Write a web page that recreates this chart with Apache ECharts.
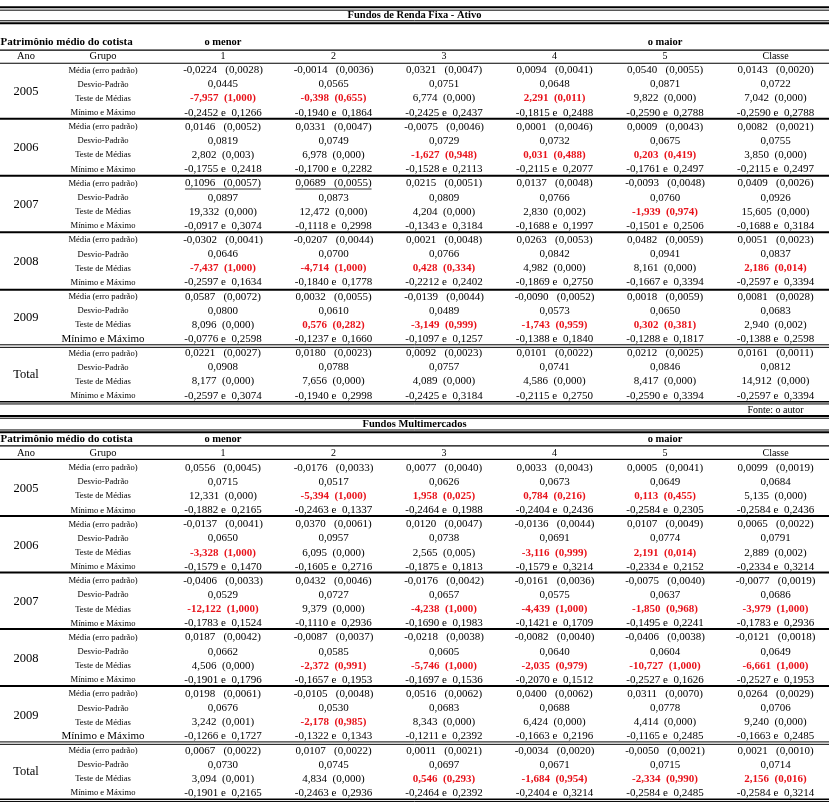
<!DOCTYPE html>
<html><head><meta charset="utf-8">
<script src="https://cdn.jsdelivr.net/npm/echarts@6/dist/echarts.min.js"></script>
<style>html,body{margin:0;padding:0;background:#fff}#c{width:829px;height:803px}</style>
</head><body><div id="c"></div>
<script>
// ---------- data ----------
const years = ['2005','2006','2007','2008','2009','Total'];
const groups = ['1','2','3','4','5','Classe'];
const statLabels = ['Média (erro padrão)','Desvio-Padrão','Teste de Médias','Mínimo e Máximo'];
const headerLabels = ['Ano','Grupo'];
const tableTitles = ['Fundos de Renda Fixa - Ativo','Fundos Multimercados'];
const sizeLabel = 'Patrimônio médio do cotista';
const sizeEnds = ['o menor','o maior'];
const sourceNote = 'Fonte: o autor';

const rfMean = [
 [-0.0224,-0.0014,0.0321,0.0094,0.0540,0.0143],
 [0.0146,0.0331,-0.0075,0.0001,0.0009,0.0082],
 [0.1096,0.0689,0.0215,0.0137,-0.0093,0.0409],
 [-0.0302,-0.0207,0.0021,0.0263,0.0482,0.0051],
 [0.0587,0.0032,-0.0139,-0.0090,0.0018,0.0081],
 [0.0221,0.0180,0.0092,0.0101,0.0212,0.0161]];
const rfSE = [
 [0.0028,0.0036,0.0047,0.0041,0.0055,0.0020],
 [0.0052,0.0047,0.0046,0.0046,0.0043,0.0021],
 [0.0057,0.0055,0.0051,0.0048,0.0048,0.0026],
 [0.0041,0.0044,0.0048,0.0053,0.0059,0.0023],
 [0.0072,0.0055,0.0044,0.0052,0.0059,0.0028],
 [0.0027,0.0023,0.0023,0.0022,0.0025,0.0011]];
const rfSD = [
 [0.0445,0.0565,0.0751,0.0648,0.0871,0.0722],
 [0.0819,0.0749,0.0729,0.0732,0.0675,0.0755],
 [0.0897,0.0873,0.0809,0.0766,0.0760,0.0926],
 [0.0646,0.0700,0.0766,0.0842,0.0941,0.0837],
 [0.0800,0.0610,0.0489,0.0573,0.0650,0.0683],
 [0.0908,0.0788,0.0757,0.0741,0.0846,0.0812]];
const rfT = [
 [-7.957,-0.398,6.774,2.291,9.822,7.042],
 [2.802,6.978,-1.627,0.031,0.203,3.850],
 [19.332,12.472,4.204,2.830,-1.939,15.605],
 [-7.437,-4.714,0.428,4.982,8.161,2.186],
 [8.096,0.576,-3.149,-1.743,0.302,2.940],
 [8.177,7.656,4.089,4.586,8.417,14.912]];
const rfP = [
 [1.000,0.655,0.000,0.011,0.000,0.000],
 [0.003,0.000,0.948,0.488,0.419,0.000],
 [0.000,0.000,0.000,0.002,0.974,0.000],
 [1.000,1.000,0.334,0.000,0.000,0.014],
 [0.000,0.282,0.999,0.959,0.381,0.002],
 [0.000,0.000,0.000,0.000,0.000,0.000]];
const rfMin = [
 [-0.2452,-0.1940,-0.2425,-0.1815,-0.2590,-0.2590],
 [-0.1755,-0.1700,-0.1528,-0.2115,-0.1761,-0.2115],
 [-0.0917,-0.1118,-0.1343,-0.1688,-0.1501,-0.1688],
 [-0.2597,-0.1840,-0.2212,-0.1869,-0.1667,-0.2597],
 [-0.0776,-0.1237,-0.1097,-0.1388,-0.1288,-0.1388],
 [-0.2597,-0.1940,-0.2425,-0.2115,-0.2590,-0.2597]];
const rfMax = [
 [0.1266,0.1864,0.2437,0.2488,0.2788,0.2788],
 [0.2418,0.2282,0.2113,0.2077,0.2497,0.2497],
 [0.3074,0.2998,0.3184,0.1997,0.2506,0.3184],
 [0.1634,0.1778,0.2402,0.2750,0.3394,0.3394],
 [0.2598,0.1660,0.1257,0.1840,0.1817,0.2598],
 [0.3074,0.2998,0.3184,0.2750,0.3394,0.3394]];
const rfUnderlined = [[2,0],[2,1]]; // [year index, group index]

const mmMean = [
 [0.0556,-0.0176,0.0077,0.0033,0.0005,0.0099],
 [-0.0137,0.0370,0.0120,-0.0136,0.0107,0.0065],
 [-0.0406,0.0432,-0.0176,-0.0161,-0.0075,-0.0077],
 [0.0187,-0.0087,-0.0218,-0.0082,-0.0406,-0.0121],
 [0.0198,-0.0105,0.0516,0.0400,0.0311,0.0264],
 [0.0067,0.0107,0.0011,-0.0034,-0.0050,0.0021]];
const mmSE = [
 [0.0045,0.0033,0.0040,0.0043,0.0041,0.0019],
 [0.0041,0.0061,0.0047,0.0044,0.0049,0.0022],
 [0.0033,0.0046,0.0042,0.0036,0.0040,0.0019],
 [0.0042,0.0037,0.0038,0.0040,0.0038,0.0018],
 [0.0061,0.0048,0.0062,0.0062,0.0070,0.0029],
 [0.0022,0.0022,0.0021,0.0020,0.0021,0.0010]];
const mmSD = [
 [0.0715,0.0517,0.0626,0.0673,0.0649,0.0684],
 [0.0650,0.0957,0.0738,0.0691,0.0774,0.0791],
 [0.0529,0.0727,0.0657,0.0575,0.0637,0.0686],
 [0.0662,0.0585,0.0605,0.0640,0.0604,0.0649],
 [0.0676,0.0530,0.0683,0.0688,0.0778,0.0706],
 [0.0730,0.0745,0.0697,0.0671,0.0715,0.0714]];
const mmT = [
 [12.331,-5.394,1.958,0.784,0.113,5.135],
 [-3.328,6.095,2.565,-3.116,2.191,2.889],
 [-12.122,9.379,-4.238,-4.439,-1.850,-3.979],
 [4.506,-2.372,-5.746,-2.035,-10.727,-6.661],
 [3.242,-2.178,8.343,6.424,4.414,9.240],
 [3.094,4.834,0.546,-1.684,-2.334,2.156]];
const mmP = [
 [0.000,1.000,0.025,0.216,0.455,0.000],
 [1.000,0.000,0.005,0.999,0.014,0.002],
 [1.000,0.000,1.000,1.000,0.968,1.000],
 [0.000,0.991,1.000,0.979,1.000,1.000],
 [0.001,0.985,0.000,0.000,0.000,0.000],
 [0.001,0.000,0.293,0.954,0.990,0.016]];
const mmMin = [
 [-0.1882,-0.2463,-0.2464,-0.2404,-0.2584,-0.2584],
 [-0.1579,-0.1605,-0.1875,-0.1579,-0.2334,-0.2334],
 [-0.1783,-0.1110,-0.1690,-0.1421,-0.1495,-0.1783],
 [-0.1901,-0.1657,-0.1697,-0.2070,-0.2527,-0.2527],
 [-0.1266,-0.1322,-0.1211,-0.1663,-0.1165,-0.1663],
 [-0.1901,-0.2463,-0.2464,-0.2404,-0.2584,-0.2584]];
const mmMax = [
 [0.2165,0.1337,0.1988,0.2436,0.2305,0.2436],
 [0.1470,0.2716,0.1813,0.3214,0.2152,0.3214],
 [0.1524,0.2936,0.1983,0.1709,0.2241,0.2936],
 [0.1796,0.1953,0.1536,0.1512,0.1626,0.1953],
 [0.1727,0.1343,0.2392,0.2196,0.2485,0.2485],
 [0.2165,0.2936,0.2392,0.3214,0.2485,0.3214]];
const mmUnderlined = [];

// ---------- layout (axis units) ----------
const X_MIN = -1.018, X_MAX = 6.484;
const X_ANO = -0.783, X_GRUPO = -0.086, X_CENTER = (X_MIN + X_MAX) / 2;
const SIG_LEVEL = 0.01;
const FONT = '"Liberation Serif", "Times New Roman", serif';
const RED = '#e8131b';

const layouts = [
  { row0: 70.3, pitch: 14.15, yMin: -4.5, yMax: 24.5, titleY: -3.86, sizeY: -2, headY: -1,
    lines: [[-4.45,2],[-4.25,1],[-3.5,1],[-3.33,2],[-1.43,1.2],[-0.5,1.2],[3.42,2],[7.45,2],[11.45,2],[15.5,2],[19.4,1],[19.58,1],[23.42,1.5],[23.58,1]],
    noteY: 24.02 },
  { row0: 468, pitch: 14.17, yMin: -4.5, yMax: 23.7, titleY: -3.1, sizeY: -2.05, headY: -1.05,
    lines: [[-3.67,2],[-3.51,1],[-2.68,1],[-2.52,2],[-1.55,1.2],[-0.6,1.2],[3.4,2],[7.4,2],[11.4,2],[15.43,2],[19.38,1],[19.55,1],[23.43,1.5],[23.59,1]],
    noteY: null }
];

const fmt = (v, d) => v.toFixed(d).replace('.', ',');

const measureCtx = document.createElement('canvas').getContext('2d');
function textWidth(t, size, bold) {
  measureCtx.font = (bold ? 'bold ' : '') + size + 'px ' + FONT;
  return measureCtx.measureText(t).width;
}

function buildCells(ti, M, SE, SD, T, P, MN, MX, UL) {
  const L = layouts[ti];
  const cells = [];
  cells.push({ x: X_CENTER, y: L.titleY, text: tableTitles[ti], size: 10.5, bold: true });
  cells.push({ x: X_MIN + 0.004, y: L.sizeY, text: sizeLabel, size: 11, bold: true, align: 'left' });
  cells.push({ x: 1, y: L.sizeY, text: sizeEnds[0], size: 10.5, bold: true });
  cells.push({ x: 5, y: L.sizeY, text: sizeEnds[1], size: 10.5, bold: true });
  cells.push({ x: X_ANO, y: L.headY, text: headerLabels[0], size: 10.5 });
  cells.push({ x: X_GRUPO, y: L.headY, text: headerLabels[1], size: 10.5 });
  groups.forEach((g, j) => cells.push({ x: j + 1, y: L.headY, text: g, size: 10 }));
  years.forEach((yr, k) => {
    const base = k * 4;
    cells.push({ x: X_ANO, y: base + 1.5, text: yr, size: 12.5 });
    statLabels.forEach((s, r) => {
      const big = (k === 4 && r === 3);
      cells.push({ x: X_GRUPO, y: base + r, text: s, size: big ? 11 : 8.6 });
    });
    groups.forEach((g, j) => {
      const ul = UL.some(u => u[0] === k && u[1] === j);
      cells.push({ x: j + 1, y: base, text: fmt(M[k][j], 4) + '   (' + fmt(SE[k][j], 4) + ')', size: 11, underline: ul });
      cells.push({ x: j + 1, y: base + 1, text: fmt(SD[k][j], 4), size: 11 });
      const sig = P[k][j] > SIG_LEVEL;
      cells.push({ x: j + 1, y: base + 2, text: fmt(T[k][j], 3) + '  (' + fmt(P[k][j], 3) + ')', size: 11, bold: sig, color: sig ? RED : '#000' });
      cells.push({ x: j + 1, y: base + 3, text: fmt(MN[k][j], 4) + ' e  ' + fmt(MX[k][j], 4), size: 11 });
    });
  });
  if (L.noteY !== null) cells.push({ x: 6, y: L.noteY, text: sourceNote, size: 10 });
  return cells;
}

const tables = [
  buildCells(0, rfMean, rfSE, rfSD, rfT, rfP, rfMin, rfMax, rfUnderlined),
  buildCells(1, mmMean, mmSE, mmSD, mmT, mmP, mmMin, mmMax, mmUnderlined)
];

function textRenderer(cells) {
  return function (params, api) {
    const c = cells[params.dataIndex];
    const p = api.coord([api.value(0), api.value(1)]);
    const el = {
      type: 'text', x: p[0], y: p[1], silent: true,
      style: {
        text: c.text, fill: c.color || '#000',
        fontSize: c.size, fontFamily: FONT, fontWeight: c.bold ? 'bold' : 'normal',
        align: c.align || 'center', verticalAlign: 'middle',
        textAlign: c.align || 'center', textVerticalAlign: 'middle'
      }
    };
    if (c.underline) {
      const w = textWidth(c.text, c.size, c.bold);
      return { type: 'group', children: [el, {
        type: 'line', shape: { x1: p[0] - w / 2, y1: p[1] + 5.5, x2: p[0] + w / 2, y2: p[1] + 5.5 },
        style: { stroke: '#000', lineWidth: 0.8 } }] };
    }
    return el;
  };
}
function lineRenderer(lines) {
  return function (params, api) {
    const l = lines[params.dataIndex];
    const a = api.coord([X_MIN, api.value(1)]);
    const b = api.coord([X_MAX, api.value(1)]);
    return { type: 'line', silent: true, shape: { x1: a[0], y1: a[1], x2: b[0], y2: b[1] },
      style: { stroke: '#000', lineWidth: l[1] } };
  };
}

const grids = [], xAxes = [], yAxes = [], series = [];
layouts.forEach((L, i) => {
  grids.push({ left: 0, right: 0, top: L.row0 + L.yMin * L.pitch, height: (L.yMax - L.yMin) * L.pitch });
  xAxes.push({ gridIndex: i, type: 'value', min: X_MIN, max: X_MAX, show: false });
  yAxes.push({ gridIndex: i, type: 'value', inverse: true, min: L.yMin, max: L.yMax, show: false });
  series.push({ type: 'custom', xAxisIndex: i, yAxisIndex: i, renderItem: lineRenderer(L.lines),
    data: L.lines.map(l => [0, l[0]]), encode: { x: 0, y: 1 }, silent: true });
  series.push({ type: 'custom', xAxisIndex: i, yAxisIndex: i, renderItem: textRenderer(tables[i]),
    data: tables[i].map(c => [c.x, c.y]), encode: { x: 0, y: 1 }, silent: true });
});

const chart = echarts.init(document.getElementById('c'), null, { renderer: 'canvas' });
chart.setOption({
  animation: false, backgroundColor: '#fff',
  grid: grids, xAxis: xAxes, yAxis: yAxes, series: series
});
</script></body></html>
